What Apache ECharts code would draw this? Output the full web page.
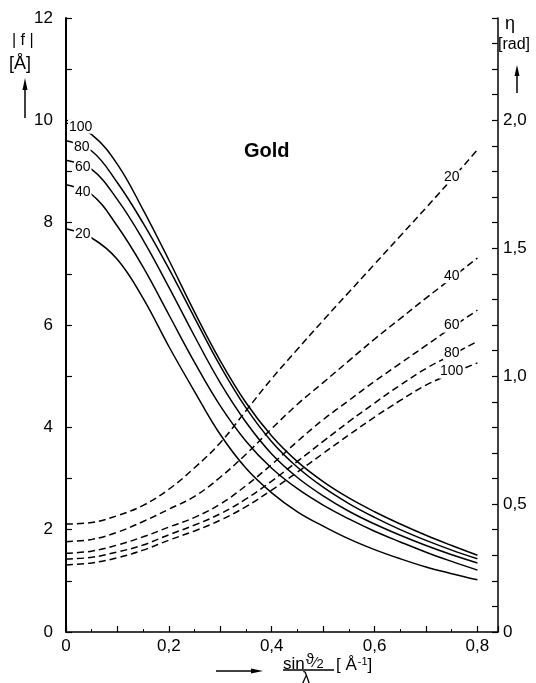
<!DOCTYPE html>
<html><head><meta charset="utf-8">
<script src="https://cdn.jsdelivr.net/npm/echarts@6/dist/echarts.min.js"></script>
<style>html,body{margin:0;padding:0;background:#fff}#c{width:536px;height:683px}</style>
</head><body><div id="c"></div>
<script>
// ---- data ----
const xs = [0,0.05,0.1,0.15,0.2,0.25,0.3,0.35,0.4,0.45,0.5,0.55,0.6,0.65,0.7,0.75,0.8];
const energies = ['20','40','60','80','100'];
// |f| amplitude (left axis, Å)
const f20  = [7.88,7.70,7.28,6.52,5.58,4.70,3.86,3.20,2.72,2.35,2.07,1.82,1.61,1.43,1.27,1.14,1.02];
const f40  = [8.74,8.55,7.93,7.13,6.20,5.27,4.42,3.73,3.20,2.80,2.48,2.21,1.97,1.76,1.56,1.38,1.21];
const f60  = [9.22,9.04,8.45,7.66,6.74,5.78,4.87,4.10,3.48,3.02,2.66,2.36,2.11,1.89,1.69,1.51,1.35];
const f80  = [9.60,9.40,8.78,7.99,7.10,6.14,5.20,4.38,3.72,3.22,2.83,2.51,2.24,2.00,1.79,1.60,1.43];
const f100 = [9.95,9.72,9.14,8.25,7.27,6.25,5.30,4.48,3.83,3.33,2.94,2.62,2.35,2.11,1.89,1.69,1.50];
// phase eta (right axis, rad)
const eta20  = [0.422,0.428,0.455,0.495,0.558,0.642,0.740,0.865,0.990,1.105,1.218,1.328,1.438,1.548,1.658,1.770,1.885];
const eta40  = [0.353,0.362,0.390,0.432,0.480,0.530,0.605,0.695,0.795,0.890,0.975,1.060,1.145,1.225,1.305,1.383,1.462];
const eta60  = [0.308,0.316,0.340,0.372,0.410,0.448,0.500,0.572,0.655,0.745,0.830,0.905,0.980,1.050,1.120,1.190,1.258];
const eta80  = [0.285,0.292,0.313,0.340,0.380,0.418,0.462,0.520,0.590,0.667,0.745,0.822,0.895,0.965,1.030,1.083,1.136];
const eta100 = [0.262,0.270,0.290,0.320,0.359,0.395,0.437,0.490,0.555,0.625,0.698,0.770,0.840,0.905,0.965,1.010,1.052];
const xTickLabels = ['0','0,2','0,4','0,6','0,8'];
const leftTickLabels = ['0','2','4','6','8','10','12'];
const rightTickLabels = ['0','0,5','1,0','1,5','2,0'];

const F = 'Liberation Sans, DejaVu Sans, sans-serif';
const fSets = [f20,f40,f60,f80,f100];
const etaSets = [eta20,eta40,eta60,eta80,eta100];
const solidOffsets = [[-9,-4],[-9,-2],[-9,-2],[-10,-4],[-11,-8]];

function lbl(text, offset){
  return {show:true, position:'inside', formatter:text, offset:offset,
    color:'#000', fontFamily:F, fontSize:14, backgroundColor:'#fff', padding:[0,1]};
}

const series = [];
fSets.forEach((arr,k)=>{
  series.push({type:'line', yAxisIndex:0, smooth:0.4, showSymbol:true, symbol:'circle', symbolSize:0.01,
    lineStyle:{color:'#000', width:1.5}, itemStyle:{color:'#000'}, silent:true, z:2,
    data: arr.map((v,i)=> i===1 ? {value:[xs[i],v], label:lbl(energies[k], solidOffsets[k])} : [xs[i],v])});
});
etaSets.forEach((arr,k)=>{
  series.push({type:'line', yAxisIndex:1, smooth:0.4, showSymbol:true, symbol:'circle', symbolSize:0.01,
    lineStyle:{color:'#000', width:1.5, type:[7,4]}, itemStyle:{color:'#000'}, silent:true, z:2,
    data: arr.map((v,i)=> i===15 ? {value:[xs[i],v], label:lbl(energies[k], [0,-2])} : [xs[i],v])});
});

function isMult(v, step){ const r=v/step; return Math.abs(r-Math.round(r))<1e-6; }

const chart = echarts.init(document.getElementById('c'), null, {renderer:'canvas'});
chart.setOption({
  animation:false,
  backgroundColor:'#fff',
  grid:{left:66, right:38, top:18, bottom:51, containLabel:false},
  xAxis:[{type:'value', min:0, max:0.84, interval:0.1,
    axisLine:{show:true, lineStyle:{color:'#000', width:1.5}},
    axisTick:{show:true, inside:true, length:6, lineStyle:{color:'#000', width:1.2}},
    minorTick:{show:true, splitNumber:2, length:3, lineStyle:{color:'#000', width:1}},
    splitLine:{show:false},
    axisLabel:{margin:6, color:'#000', fontFamily:F, fontSize:17, showMaxLabel:false,
      formatter:v=> isMult(v,0.2) ? xTickLabels[Math.round(v/0.2)] : ''}}],
  yAxis:[{type:'value', position:'left', min:0, max:12, interval:1,
    axisLine:{show:true, lineStyle:{color:'#000', width:2}},
    axisTick:{show:true, inside:true, length:6, lineStyle:{color:'#000', width:1.2}},
    splitLine:{show:false},
    axisLabel:{margin:13, color:'#000', fontFamily:F, fontSize:17,
      formatter:v=> isMult(v,2) ? leftTickLabels[Math.round(v/2)] : ''}},
   {type:'value', position:'right', min:0, max:2.4, interval:0.1,
    axisLine:{show:true, lineStyle:{color:'#000', width:1.5}},
    axisTick:{show:true, inside:true, length:6, lineStyle:{color:'#000', width:1.2}},
    splitLine:{show:false},
    axisLabel:{margin:5, color:'#000', fontFamily:F, fontSize:17,
      formatter:v=> isMult(v,0.5) ? rightTickLabels[Math.round(v/0.5)] : ''}}],
  series: series,
  graphic:[
    {type:'text', left:244, top:141, style:{text:'Gold', font:'bold 20px '+F, fill:'#000'}},
    // left axis title
    {type:'text', left:12, top:33, style:{text:'| f |', font:'16px '+F, fill:'#000'}},
    {type:'text', left:9, top:55, style:{text:'[Å]', font:'18px '+F, fill:'#000'}},
    {type:'line', shape:{x1:25, y1:118, x2:25, y2:86}, style:{stroke:'#000', lineWidth:1.5}},
    {type:'polygon', shape:{points:[[25,78],[22.5,90],[27.5,90]]}, style:{fill:'#000'}},
    // right axis title
    {type:'text', left:505, top:15, style:{text:'η', font:'18px '+F, fill:'#000'}},
    {type:'text', left:498, top:37, style:{text:'[rad]', font:'16px '+F, fill:'#000'}},
    {type:'line', shape:{x1:517, y1:93, x2:517, y2:72}, style:{stroke:'#000', lineWidth:1.5}},
    {type:'polygon', shape:{points:[[517,65],[514.5,76],[519.5,76]]}, style:{fill:'#000'}},
    // x axis title
    {type:'line', shape:{x1:216, y1:671, x2:252, y2:671}, style:{stroke:'#000', lineWidth:1.3}},
    {type:'polygon', shape:{points:[[263,671],[251,668.5],[251,673.5]]}, style:{fill:'#000'}},
    {type:'text', left:283, top:652, style:{text:'{a|sin}{b|ϑ}{c|⁄}{d|2}', fill:'#000',
      rich:{a:{font:'17px '+F, verticalAlign:'bottom'}, b:{font:'15px '+F, padding:[0,0,6,1]}, c:{font:'15px '+F}, d:{font:'13px '+F, padding:[4,0,0,0]}}}},
    {type:'line', shape:{x1:283, y1:670, x2:334, y2:670}, style:{stroke:'#000', lineWidth:1.3}},
    {type:'text', left:302, top:671, style:{text:'λ', font:'16px '+F, fill:'#000'}},
    {type:'text', left:336, top:656, style:{text:'{a|[ Å}{b|-1}{a|]}', fill:'#000',
      rich:{a:{font:'17px '+F}, b:{font:'11px '+F, padding:[0,0,8,1]}}}}
  ]
});
</script></body></html>
